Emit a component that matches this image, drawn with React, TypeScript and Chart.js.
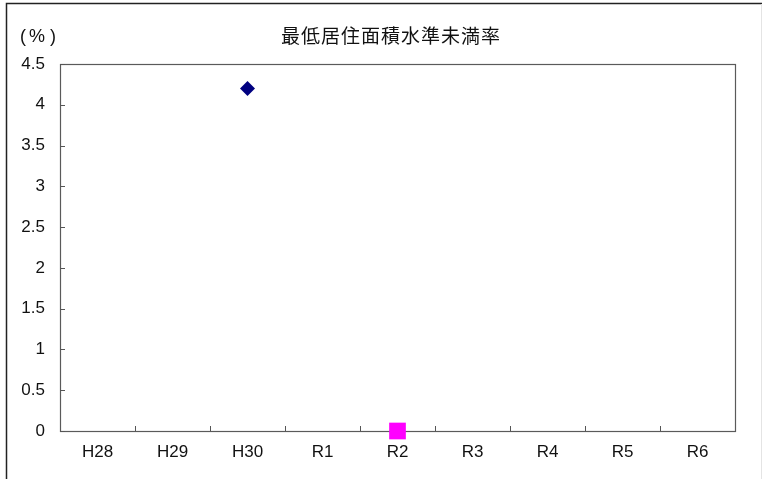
import React, { useEffect, useRef } from "react";
import { Chart, registerables } from "chart.js";

Chart.register(...registerables);

const categories = ["H28", "H29", "H30", "R1", "R2", "R3", "R4", "R5", "R6"];
const seriesDiamond: (number | null)[] = [null, null, 4.2, null, null, null, null, null, null];
const seriesSquare: (number | null)[] = [null, null, null, null, 0, null, null, null, null];
const yTickValues = [0, 0.5, 1, 1.5, 2, 2.5, 3, 3.5, 4, 4.5];
const chartTitle = "最低居住面積水準未満率";
const unitParts = ["(", "%", ")"];

const LATIN = "'Liberation Sans', Arial, sans-serif";
const CJK = "'Noto Sans CJK JP', 'Noto Sans CJK SC', sans-serif";

const decorPlugin = {
  id: "decor",
  beforeDatasetsDraw(chart: any) {
    const { ctx, chartArea } = chart;
    const { left, right, top, bottom } = chartArea;
    ctx.save();
    ctx.strokeStyle = "#5a5a5a";
    ctx.lineWidth = 1.2;
    ctx.strokeRect(left + 0.5, top + 0.5, right - left, bottom - top);
    const ys = chart.scales.y;
    ctx.strokeStyle = "#555";
    ctx.lineWidth = 1;
    yTickValues.forEach((v) => {
      const py = Math.round(ys.getPixelForValue(v)) + 0.5;
      ctx.beginPath();
      ctx.moveTo(left, py);
      ctx.lineTo(left + 5, py);
      ctx.stroke();
    });
    const xs = chart.scales.x;
    for (let i = 0; i < categories.length - 1; i++) {
      const px = Math.round((xs.getPixelForTick(i) + xs.getPixelForTick(i + 1)) / 2) + 0.5;
      ctx.beginPath();
      ctx.moveTo(px, bottom);
      ctx.lineTo(px, bottom - 5);
      ctx.stroke();
    }
    ctx.restore();
  },
  afterDraw(chart: any) {
    const { ctx } = chart;
    ctx.save();
    ctx.strokeStyle = "#222";
    ctx.lineWidth = 1.5;
    ctx.beginPath();
    ctx.moveTo(6.5, chart.height);
    ctx.lineTo(6.5, 3.5);
    ctx.lineTo(762, 3.5);
    ctx.stroke();
    ctx.strokeStyle = "#e4e4e4";
    ctx.lineWidth = 1;
    ctx.beginPath();
    ctx.moveTo(761.5, 4);
    ctx.lineTo(761.5, chart.height);
    ctx.stroke();
    // title
    ctx.fillStyle = "#111";
    ctx.font = `19px ${CJK}`;
    (ctx as any).letterSpacing = "1px";
    ctx.textAlign = "left";
    ctx.textBaseline = "middle";
    const w = ctx.measureText(chartTitle).width;
    ctx.fillText(chartTitle, 391 - w / 2, 36);
    (ctx as any).letterSpacing = "0px";
    // unit label
    ctx.font = `18px ${LATIN}`;
    ctx.textAlign = "center";
    ctx.fillText(unitParts[0], 23, 37);
    ctx.fillText(unitParts[1], 37, 37);
    ctx.fillText(unitParts[2], 53, 37);
    ctx.restore();
  },
};

export default function App() {
  const ref = useRef<HTMLCanvasElement | null>(null);
  useEffect(() => {
    if (!ref.current) return;
    const chart = new Chart(ref.current, {
      type: "line",
      data: {
        labels: categories,
        datasets: [
          {
            label: "A",
            data: seriesDiamond,
            showLine: false,
            pointStyle: "rectRot",
            pointRadius: 7.5,
            pointBackgroundColor: "#000080",
            pointBorderColor: "#000080",
            pointBorderWidth: 0,
            clip: false as any,
          },
          {
            label: "B",
            data: seriesSquare,
            showLine: false,
            pointStyle: "rect",
            pointRadius: 11.8,
            pointBackgroundColor: "#ff00ff",
            pointBorderColor: "#ff00ff",
            pointBorderWidth: 0,
            clip: false as any,
          },
        ],
      },
      options: {
        responsive: false,
        animation: false,
        devicePixelRatio: 1,
        layout: { padding: { top: 64, right: 30, left: 0, bottom: 0 } },
        plugins: {
          legend: { display: false },
          title: { display: false },
          tooltip: { enabled: false },
        },
        scales: {
          x: {
            type: "category",
            offset: true,
            grid: { display: false, drawTicks: false },
            border: { display: false },
            ticks: {
              padding: 11,
              color: "#111",
              font: { family: LATIN, size: 17 },
              maxRotation: 0,
              autoSkip: false,
            },
            afterFit: (s: any) => {
              s.height = 48;
            },
          },
          y: {
            min: 0,
            max: 4.5,
            grid: { display: false, drawTicks: false },
            border: { display: false },
            ticks: {
              stepSize: 0.5,
              padding: 15,
              color: "#111",
              font: { family: LATIN, size: 17 },
              callback: (v: any) => String(v),
            },
            afterFit: (s: any) => {
              s.width = 60;
            },
          },
        },
      },
      plugins: [decorPlugin],
    });
    return () => chart.destroy();
  }, []);
  return (
    <div style={{ position: "absolute", left: 0, top: 0, width: 765, height: 479, background: "#fff" }}>
      <canvas ref={ref} width={765} height={479} style={{ display: "block" }} />
    </div>
  );
}
